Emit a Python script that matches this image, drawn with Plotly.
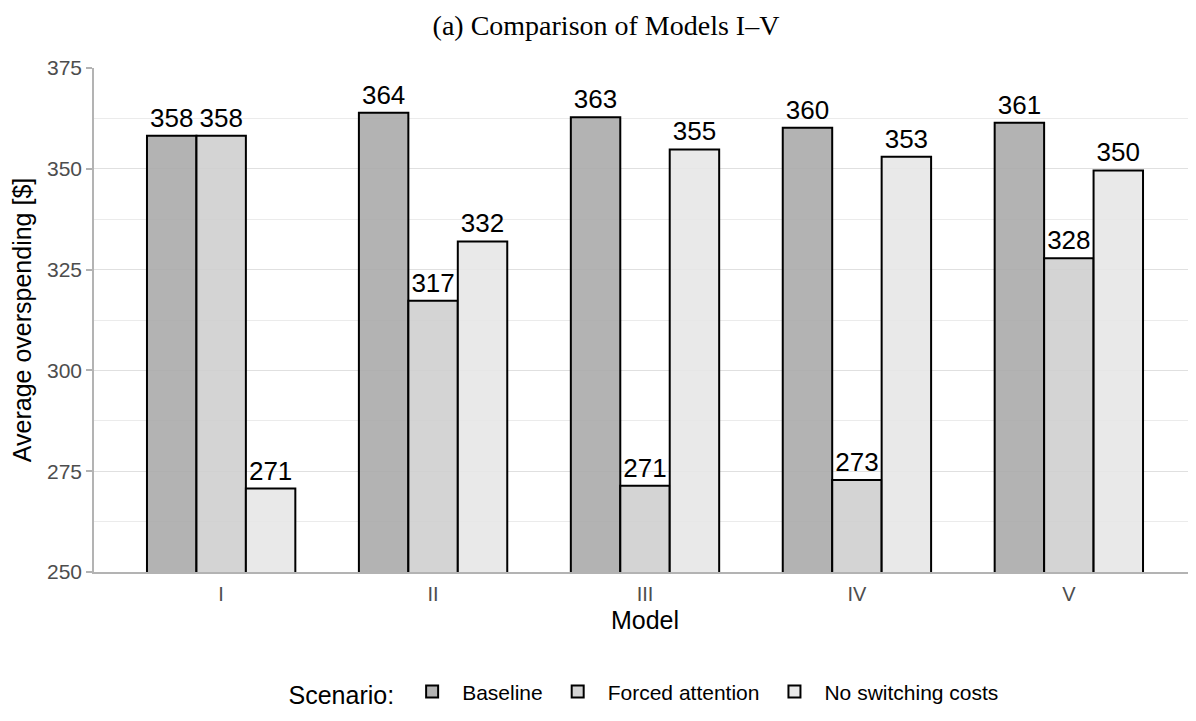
import plotly.graph_objects as go

models = ["I", "II", "III", "IV", "V"]
scenarios = ["Baseline", "Forced attention", "No switching costs"]
baseline = [358.2, 363.9, 362.8, 360.2, 361.4]
forced_attention = [358.2, 317.3, 271.4, 272.8, 327.8]
no_switching = [270.7, 332.0, 354.8, 353.0, 349.6]
series = [baseline, forced_attention, no_switching]
colors = ["rgba(171,171,171,0.9)", "rgba(207,207,207,0.9)", "rgba(231,231,231,0.9)"]

fig = go.Figure()
for name, vals, col in zip(scenarios, series, colors):
    fig.add_trace(go.Bar(
        x=models, y=vals, name=name,
        marker=dict(color=col, line=dict(color="black", width=2)),
        texttemplate="%{y:.0f}", textposition="outside",
        textfont=dict(family="Liberation Sans", size=26, color="black"),
        cliponaxis=False, constraintext="none",
    ))

fig.update_layout(
    width=1196, height=721,
    margin=dict(l=86, r=8, t=60, b=157, autoexpand=False),
    plot_bgcolor="white", paper_bgcolor="white",
    barmode="group", bargap=0.3, bargroupgap=0,
    font=dict(family="Liberation Sans", color="black"),
    title=dict(text="(a) Comparison of Models I–V", x=0.5, xanchor="center",
               y=1 - 17 / 721, yanchor="middle", yref="container",
               font=dict(family="Liberation Serif", size=28, color="black")),
    legend=dict(orientation="h", x=0.5, xanchor="center", y=-0.24, yanchor="middle",
                title=dict(text="Scenario:", font=dict(size=25)),
                font=dict(size=21), itemwidth=50),
    showlegend=True,
)
fig.update_xaxes(
    range=[-0.6, 4.6], showgrid=False, automargin=False,
    showline=True, linecolor="#b3b3b3", linewidth=1.5,
    ticks="outside", ticklen=3, tickcolor="rgba(0,0,0,0)",
    tickfont=dict(size=20, color="#4d4d4d"),
    title=dict(text="Model", font=dict(size=25), standoff=8),
)
fig.update_yaxes(
    range=[250, 375], dtick=25, tick0=250, automargin=False,
    showgrid=True, gridcolor="#e0e0e0", gridwidth=1.2,
    minor=dict(dtick=12.5, showgrid=True, gridcolor="#ebebeb", gridwidth=1.2),
    showline=True, linecolor="#b3b3b3", linewidth=1.5,
    ticks="outside", ticklen=6, tickcolor="#b3b3b3", tickwidth=1.5,
    tickfont=dict(size=21, color="#4d4d4d"),
    title=dict(text="Average overspending [$]", font=dict(size=25), standoff=12),
    zeroline=False,
)

fig.write_html("out.html")
